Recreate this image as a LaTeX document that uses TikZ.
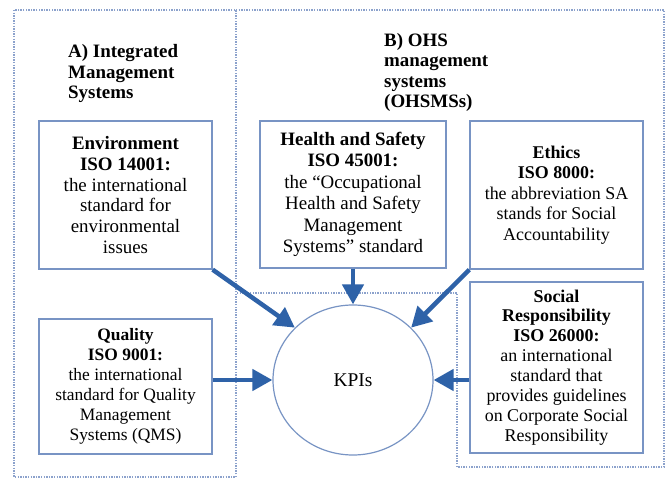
\documentclass[tikz,border=0pt]{standalone}
\usepackage{fontspec}
\setmainfont{Liberation Serif}
\usetikzlibrary{arrows.meta,shapes.geometric}
\definecolor{boxc}{RGB}{120,148,196}
\definecolor{arrc}{RGB}{46,98,168}
\definecolor{dotc}{RGB}{140,162,204}
\begin{document}
\begin{tikzpicture}[x=1bp,y=-1bp,
  box/.style={draw=boxc,line width=1.3bp,inner sep=0pt,align=center,text=black},
  flow/.style={draw=arrc,line width=4.5bp,-{Triangle[length=20bp,width=21bp]}},
  frame/.style={draw=dotc,line width=1.2bp,dash pattern=on 1.4bp off 1.2bp},
  heading/.style={anchor=north west,align=left,inner sep=0pt,font=\fontsize{19}{21}\selectfont\bfseries}]
\useasboundingbox (0,0) rectangle (666,479);
\fill[white] (0,0) rectangle (666,479);
\draw[frame] (14,10) rectangle (236,477);
\draw[frame] (236,10) -- (664,10) -- (664,467) -- (457,467) -- (457,293) -- (236,293);

\node[heading] (ta) at (68,43.8) {A) Integrated\\Management\\Systems};
\node[heading,font=\fontsize{19}{20.7}\selectfont\bfseries] (tb) at (384,32.8) {B) OHS\\management\\systems\\(OHSMSs)};

\node[box,minimum width=173bp,minimum height=148bp,font=\fontsize{19}{21}\selectfont] (env) at (125.5,195)
  {\textbf{Environment}\\\textbf{ISO 14001:}\\the international\\standard for\\environmental\\issues};
\node[box,minimum width=173bp,minimum height=135bp,font=\fontsize{17.5}{20}\selectfont] (quality) at (125.5,386.5)
  {\textbf{Quality}\\\textbf{ISO 9001:}\\the international\\standard for Quality\\Management\\Systems (QMS)};
\node[box,minimum width=186bp,minimum height=147bp,font=\fontsize{19}{21.5}\selectfont] (health) at (353,194.5)
  {\textbf{Health and Safety}\\\textbf{ISO 45001:}\\the “Occupational\\Health and Safety\\Management\\Systems” standard};
\node[box,minimum width=173bp,minimum height=148bp,font=\fontsize{18}{20.5}\selectfont] (ethics) at (556.5,195)
  {\textbf{Ethics}\\\textbf{ISO 8000:}\\the abbreviation SA\\stands for Social\\Accountability};
\node[box,minimum width=173bp,minimum height=171bp,font=\fontsize{18}{20}\selectfont] (social) at (556.5,367.5)
  {\textbf{Social}\\\textbf{Responsibility}\\\textbf{ISO 26000:}\\an international\\standard that\\provides guidelines\\on Corporate Social\\Responsibility};

\node[ellipse,draw=boxc,line width=1.2bp,inner sep=0pt,minimum width=160bp,minimum height=150bp,font=\fontsize{19.5}{22}\selectfont] (kpi) at (353,380) {KPIs};

\draw[flow] (env.south east) -- (kpi.138);
\draw[flow] (quality.east |- kpi.west) -- (kpi.west);
\draw[flow] (health.south) -- (kpi.north);
\draw[flow] (ethics.south west) -- (kpi.42);
\draw[flow] (social.west |- kpi.east) -- (kpi.east);
\end{tikzpicture}
\end{document}
